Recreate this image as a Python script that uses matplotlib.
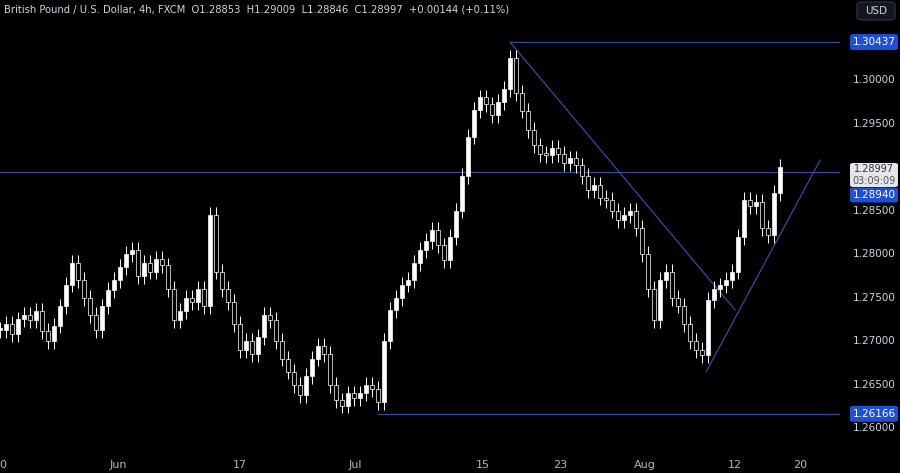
import matplotlib.pyplot as plt
from matplotlib.patches import FancyBboxPatch

# closes, one per half day (12h), starting May 20
closes = [1.2713, 1.2720, 1.2708, 1.2725, 1.2730, 1.2724, 1.2735, 1.2712, 1.2700, 1.2718,
          1.2740, 1.2765, 1.2790, 1.2770, 1.2750, 1.2730, 1.2713, 1.2740, 1.2759, 1.2770,
          1.2785, 1.2800, 1.2805, 1.2775, 1.2790, 1.2780, 1.2795, 1.2787, 1.2760, 1.2724,
          1.2735, 1.2750, 1.2745, 1.2760, 1.2740, 1.2845, 1.2780, 1.2760, 1.2745, 1.2720,
          1.2690, 1.2700, 1.2685, 1.2705, 1.2730, 1.2724, 1.2700, 1.2680, 1.2665, 1.2650,
          1.2638, 1.2660, 1.2680, 1.2695, 1.2685, 1.2650, 1.2632, 1.2626, 1.2640, 1.2635,
          1.2640, 1.2650, 1.2645, 1.2630, 1.2700, 1.2736, 1.2750, 1.2765, 1.2770, 1.2790,
          1.2805, 1.2815, 1.2828, 1.2810, 1.2793, 1.2820, 1.2850, 1.2890, 1.2935, 1.2966,
          1.2980, 1.2972, 1.2960, 1.2975, 1.2990, 1.3025, 1.2985, 1.2965, 1.2943, 1.2925,
          1.2915, 1.2914, 1.2922, 1.2915, 1.2905, 1.2910, 1.2902, 1.2890, 1.2874, 1.2880,
          1.2865, 1.2862, 1.2850, 1.2839, 1.2845, 1.2850, 1.2830, 1.2800, 1.2760, 1.2724,
          1.2770, 1.2780, 1.2750, 1.2741, 1.2720, 1.2700, 1.2690, 1.2684, 1.2747, 1.2760,
          1.2764, 1.2770, 1.2780, 1.2820, 1.2862, 1.2855, 1.2860, 1.2830, 1.2822, 1.2870,
          1.2900]
wick = 0.0009

date_labels = ["0", "Jun", "17", "Jul", "15", "23", "Aug", "12", "20"]
date_pos = [0.4, 19.7, 40.0, 59.2, 80.5, 93.3, 107.5, 122.5, 133.3]

levels = {"high": 1.30437, "mid": 1.28940, "low": 1.26166}
price_ticks = [1.260, 1.265, 1.270, 1.275, 1.280, 1.285, 1.295, 1.300]

line_col = "#3c4a9c"
ymin, ymax = 1.2575, 1.3092
W, H = 900, 473

fig = plt.figure(figsize=(9, 4.73), dpi=100, facecolor="black")
ax = fig.add_axes([0, 1 - 450 / H, 840 / W, 450 / H])
ax.set_facecolor("black")
ax.set_xlim(0, 140)
ax.set_ylim(ymin, ymax)
for s in ax.spines.values():
    s.set_visible(False)
ax.set_yticks([])
ax.set_xticks([])

opens = [closes[0]] + closes[:-1]
for i, (o, c) in enumerate(zip(opens, closes)):
    ax.vlines(i, min(o, c) - wick, max(o, c) + wick, color="white", lw=0.7, zorder=3)
    face = "white" if c >= o else "black"
    ax.bar(i, max(abs(c - o), 0.0002), bottom=min(o, c), width=0.6,
           color=face, edgecolor="white", lw=0.5, zorder=4)

# levels and trendlines
hi_i = closes.index(max(closes))
lo_i = 63
ax.plot([0, 140], [levels["mid"]] * 2, color=line_col, lw=0.9)
ax.plot([hi_i, 140], [levels["high"]] * 2, color=line_col, lw=0.9)
ax.plot([lo_i, 140], [levels["low"]] * 2, color=line_col, lw=0.9)
ax.plot([hi_i, 122.5], [levels["high"], 1.2736], color=line_col, lw=0.9)
ax.plot([117.7, 136.7], [1.2665, 1.2908], color=line_col, lw=0.9)

for lab, p in zip(date_labels, date_pos):
    fig.text(p * 6 / W, 8 / H, lab, color="#b2b5be", fontsize=8, ha="center", va="center")

def yfig(p):
    return 1 - (450 / H) * (ymax - p) / (ymax - ymin)

for p in price_ticks:
    fig.text(874 / W, yfig(p), f"{p:.5f}", color="#d1d4dc", fontsize=7.5, ha="center", va="center")

def box(y, h, fc):
    fig.patches.append(FancyBboxPatch((850 / W, y - h / 2 / H), 48 / W, h / H,
                                      boxstyle="round,pad=0,rounding_size=0.004",
                                      transform=fig.transFigure, fc=fc, ec="none"))

blue = "#1f4fd6"
for p, txt in [(levels["high"], "1.30437"), (levels["low"], "1.26166")]:
    box(yfig(p), 16, blue)
    fig.text(874 / W, yfig(p), txt, color="white", fontsize=7.5, ha="center", va="center")

box(1 - 195 / H, 15, blue)
fig.text(874 / W, 1 - 195 / H, "1.28940", color="white", fontsize=7.5, ha="center", va="center")
box(1 - 175 / H, 24, "#e4e6eb")
fig.text(874 / W, 1 - 169 / H, "1.28997", color="#333", fontsize=7, ha="center", va="center")
fig.text(874 / W, 1 - 181 / H, "03:09:09", color="#555", fontsize=7, ha="center", va="center")

fig.patches.append(FancyBboxPatch((857 / W, 1 - 20 / H), 38 / W, 18 / H,
                                  boxstyle="round,pad=0,rounding_size=0.006",
                                  transform=fig.transFigure, fc="#131722", ec="#2a2e39"))
fig.text(876 / W, 1 - 11 / H, "USD", color="#d1d4dc", fontsize=7.5, ha="center", va="center")

fig.text(4 / W, 1 - 10 / H,
         "British Pound / U.S. Dollar, 4h, FXCM  O1.28853  H1.29009  L1.28846  C1.28997  +0.00144 (+0.11%)",
         color="#d1d4dc", fontsize=7.2, ha="left", va="center")

fig.savefig("out.png", dpi=100, facecolor="black")
